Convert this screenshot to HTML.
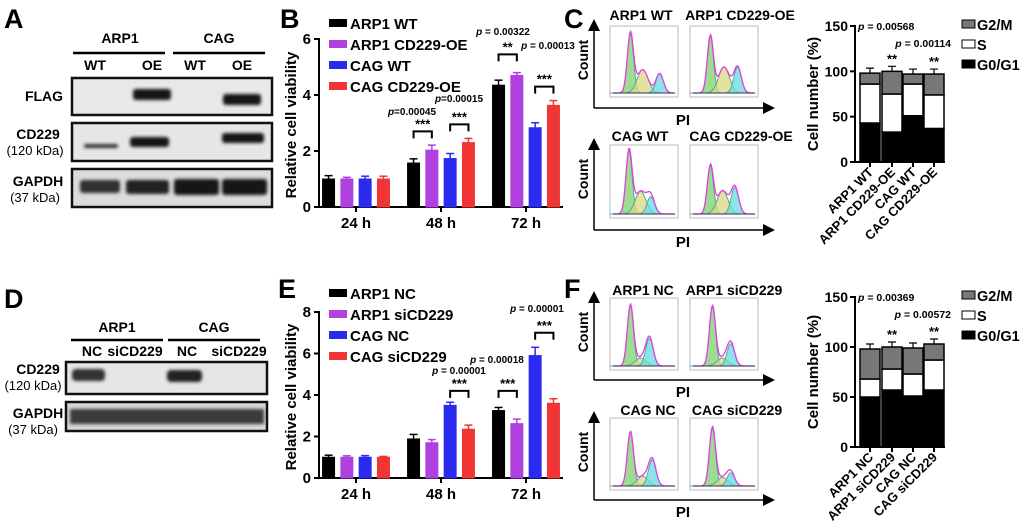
<!DOCTYPE html>
<html><head><meta charset="utf-8"><style>
body{margin:0;background:#fff}
svg{display:block;font-family:"Liberation Sans",Arial,sans-serif}
.b{font-weight:bold}
</style></head><body>
<svg id="s" width="1020" height="529" viewBox="0 0 1020 529" xmlns="http://www.w3.org/2000/svg">
<defs>
<filter id="blur" x="-20%" y="-50%" width="140%" height="200%"><feGaussianBlur stdDeviation="1.6"/></filter>
<marker id="arr" markerWidth="8" markerHeight="8" refX="6" refY="4" orient="auto"><path d="M0,0 L8,4 L0,8 z" fill="#000"/></marker>
</defs>
<text x="4" y="28" font-size="27" class="b">A</text>
<text x="280" y="28" font-size="27" class="b">B</text>
<text x="564" y="28" font-size="27" class="b">C</text>
<text x="4" y="308" font-size="27" class="b">D</text>
<text x="278" y="298" font-size="27" class="b">E</text>
<text x="564" y="298" font-size="27" class="b">F</text>

<g font-size="14">
<text x="120" y="43" text-anchor="middle" class="b">ARP1</text>
<text x="219" y="43" text-anchor="middle" class="b">CAG</text>
<line x1="73" y1="53" x2="165" y2="53" stroke="#000" stroke-width="2.5"/>
<line x1="173" y1="53" x2="265" y2="53" stroke="#000" stroke-width="2.5"/>
<text x="95" y="70" text-anchor="middle" class="b">WT</text>
<text x="152" y="70" text-anchor="middle" class="b">OE</text>
<text x="195" y="70" text-anchor="middle" class="b">WT</text>
<text x="242" y="70" text-anchor="middle" class="b">OE</text>
<text x="44" y="101" text-anchor="middle" class="b">FLAG</text>
<text x="38" y="139" text-anchor="middle" class="b">CD229</text>
<text x="35" y="155" text-anchor="middle" font-size="13">(120 kDa)</text>
<text x="38" y="186" text-anchor="middle" class="b">GAPDH</text>
<text x="35" y="202" text-anchor="middle" font-size="13">(37 kDa)</text>
<rect x="72" y="78" width="200" height="37" fill="#e8e8e8" stroke="#111" stroke-width="2.5"/>
<rect x="72" y="123" width="200" height="38" fill="#e6e6e6" stroke="#111" stroke-width="2.5"/>
<rect x="72" y="169" width="200" height="38" fill="#dcdcdc" stroke="#111" stroke-width="2.5"/>
<g filter="url(#blur)" fill="#151515">
<rect x="133" y="89" width="38" height="11" rx="3"/>
<rect x="223" y="94" width="38" height="11" rx="3"/>
<rect x="84" y="144" width="34" height="4" rx="2" fill="#333"/>
<rect x="130" y="137" width="39" height="10" rx="3"/>
<rect x="222" y="133" width="42" height="10" rx="3"/>
<rect x="80" y="180" width="40" height="13" rx="3" fill="#333"/>
<rect x="126" y="180" width="43" height="14" rx="3" fill="#222"/>
<rect x="174" y="179" width="45" height="16" rx="3"/>
<rect x="222" y="179" width="45" height="16" rx="3"/>
</g>
</g>

<g font-size="14">
<text x="117" y="332" text-anchor="middle" class="b">ARP1</text>
<text x="214" y="332" text-anchor="middle" class="b">CAG</text>
<line x1="71" y1="340" x2="163" y2="340" stroke="#000" stroke-width="2.5"/>
<line x1="168" y1="340" x2="260" y2="340" stroke="#000" stroke-width="2.5"/>
<text x="92" y="356" text-anchor="middle" class="b">NC</text>
<text x="135" y="356" text-anchor="middle" class="b">siCD229</text>
<text x="187" y="356" text-anchor="middle" class="b">NC</text>
<text x="239" y="356" text-anchor="middle" class="b">siCD229</text>
<text x="38" y="374" text-anchor="middle" class="b">CD229</text>
<text x="33" y="390" text-anchor="middle" font-size="13">(120 kDa)</text>
<text x="38" y="418" text-anchor="middle" class="b">GAPDH</text>
<text x="33" y="434" text-anchor="middle" font-size="13">(37 kDa)</text>
<rect x="66" y="362" width="201" height="32" fill="#e6e6e6" stroke="#111" stroke-width="2.5"/>
<rect x="66" y="402" width="201" height="29" fill="#d8d8d8" stroke="#111" stroke-width="2.5"/>
<g filter="url(#blur)">
<rect x="72" y="369" width="33" height="12" rx="4" fill="#333"/>
<rect x="167" y="370" width="35" height="12" rx="4" fill="#222"/>
<rect x="70" y="409" width="194" height="15" fill="#3a3a3a"/>
</g>
</g>

<g id="chartB"></g>
<g id="chartE"></g>
<g id="histC"></g>
<g id="histF"></g>
<g id="stackC"></g>
<g id="stackF"></g>
</svg>
<script>
const timeCats = ["24 h","48 h","72 h"];
const seriesColors = ["#000000","#b040e0","#2b2bf0","#f03535"];
const seriesB = ["ARP1 WT","ARP1 CD229-OE","CAG WT","CAG CD229-OE"];
const valsB = [[1,1.57,4.35],[1,2.03,4.7],[1,1.73,2.83],[1,2.3,3.63]];
const errB = [[0.12,0.15,0.18],[0.06,0.18,0.1],[0.1,0.18,0.18],[0.1,0.15,0.17]];
const ticksB = [0,2,4,6];
const seriesE = ["ARP1 NC","ARP1 siCD229","CAG NC","CAG siCD229"];
const valsE = [[1,1.88,3.25],[1,1.7,2.62],[1,3.5,5.9],[1,2.35,3.6]];
const errE = [[0.1,0.22,0.15],[0.07,0.15,0.22],[0.08,0.15,0.4],[0.04,0.2,0.22]];
const ticksE = [0,2,4,6,8];
const cycCatsC = ["ARP1 WT","ARP1 CD229-OE","CAG WT","CAG CD229-OE"];
const g1C = [43,33,51,37], sC = [43,42,35,37], g2C = [12,25,11,23];
const cycCatsF = ["ARP1 NC","ARP1 siCD229","CAG NC","CAG siCD229"];
const g1F = [50,57,51,57], sF = [18,21,22,30], g2F = [30,22,26,16];
const ticksCyc = [0,50,100,150];

const NS="http://www.w3.org/2000/svg";
function mk(p,tag,attrs,txt){const e=document.createElementNS(NS,tag);for(const k in attrs)e.setAttribute(k,attrs[k]);if(txt!==undefined)e.textContent=txt;p.appendChild(e);return e;}

function barChart(gid,oy,y0,yTop,ymax,ticks,series,vals,errs,annots){
  const g=document.getElementById(gid);
  const x0=319,x1=563;
  const ys=v=>y0-(v/ymax)*(y0-yTop);
  const centers=[356,441,526];
  const xs=(ci,si)=>centers[ci]+(si-1.5)*18.3;
  mk(g,'line',{x1:x0,y1:yTop-1,x2:x0,y2:y0,stroke:'#000','stroke-width':2});
  mk(g,'line',{x1:x0,y1:y0,x2:x1,y2:y0,stroke:'#000','stroke-width':2});
  ticks.forEach(t=>{mk(g,'line',{x1:x0-5,y1:ys(t),x2:x0,y2:ys(t),stroke:'#000','stroke-width':2});
    const l=mk(g,'text',{x:x0-8,y:ys(t)+5,'text-anchor':'end','font-size':15,'font-weight':'bold'},t);
    
    });
  const yl=mk(g,'text',{x:0,y:0,transform:`translate(296,${(y0+yTop)/2+2}) rotate(-90)`,'text-anchor':'middle','font-size':15,'font-weight':'bold'},'Relative cell viability');
  
  
  timeCats.forEach((c,ci)=>{mk(g,'line',{x1:centers[ci],y1:y0,x2:centers[ci],y2:y0+5,stroke:'#000','stroke-width':2});
    const l=mk(g,'text',{x:centers[ci],y:y0+21,'text-anchor':'middle','font-size':15,'font-weight':'bold'},c);
    
    });
  series.forEach((s,si)=>{
    vals[si].forEach((v,ci)=>{
      const cx=xs(ci,si),col=seriesColors[si];
      const top=ys(v),et=ys(v+errs[si][ci]);
      mk(g,'line',{x1:cx,y1:top,x2:cx,y2:et,stroke:col,'stroke-width':1.5});
      mk(g,'line',{x1:cx-4,y1:et,x2:cx+4,y2:et,stroke:col,'stroke-width':1.5});
      const r=mk(g,'rect',{x:cx-6,y:top,width:12,height:y0-top,fill:col,stroke:col,'stroke-width':1});
      
      
    });
    const ly=oy+24+si*21;
    const lr=mk(g,'rect',{x:329,y:ly-5,width:18,height:8,fill:seriesColors[si]});
    
    
    const lt=mk(g,'text',{x:350,y:ly+5,'font-size':15,'font-weight':'bold'},s);
    
    
  });
  annots.forEach(a=>{
    const xa=xs(a.ci,a.s1),xb=xs(a.ci,a.s2),yb=ys(a.y);
    mk(g,'path',{d:`M${xa},${yb+7} V${yb} H${xb} V${yb+7}`,fill:'none',stroke:'#000','stroke-width':2});
    mk(g,'text',{x:(xa+xb)/2,y:yb-3,'text-anchor':'middle','font-size':13,'font-weight':'bold'},a.star);
    const p=mk(g,'text',{x:a.px,y:a.py,'text-anchor':'middle','font-size':10,'font-weight':'bold'});
    mk(p,'tspan',{'font-style':'italic'},'p');mk(p,'tspan',{},a.p);
  });
}
barChart('chartB',0,207,39,6,ticksB,seriesB,valsB,errB,[
 {ci:1,s1:0,s2:1,y:2.7,star:'***',px:412,py:115,p:'=0.00045'},
 {ci:1,s1:2,s2:3,y:2.95,star:'***',px:459,py:102,p:'=0.00015'},
 {ci:2,s1:0,s2:1,y:5.45,star:'**',px:503,py:35,p:' = 0.00322'},
 {ci:2,s1:2,s2:3,y:4.3,star:'***',px:548,py:49,p:' = 0.00013'}]);
barChart('chartE',270,478,312,8,ticksE,seriesE,valsE,errE,[
 {ci:1,s1:2,s2:3,y:4.2,star:'***',px:459,py:374,p:' = 0.00001'},
 {ci:2,s1:0,s2:1,y:4.2,star:'***',px:497,py:363,p:' = 0.00018'},
 {ci:2,s1:2,s2:3,y:7.0,star:'***',px:537,py:312,p:' = 0.00001'}]);

const histC=[["ARP1 WT",[0.3,0.92,0.48,0.36,0.73,0.3]],["ARP1 CD229-OE",[0.3,0.88,0.5,0.4,0.7,0.4]],["CAG WT",[0.28,0.95,0.45,0.34,0.6,0.26]],["CAG CD229-OE",[0.3,0.72,0.48,0.35,0.66,0.4]]];
const histF=[["ARP1 NC",[0.3,0.92,0.45,0.12,0.58,0.42]],["ARP1 siCD229",[0.33,0.9,0.48,0.12,0.6,0.34]],["CAG NC",[0.3,0.82,0.48,0.15,0.62,0.4]],["CAG siCD229",[0.33,0.88,0.48,0.13,0.6,0.2]]];
// row layout: [labelY, boxTop, boxH, axisY, label centers]
function hists(gid,rows,data){
  const g=document.getElementById(gid);
  rows.forEach(([ly,bt,bh,base,lc],r)=>{
    mk(g,'line',{x1:594,y1:base,x2:594,y2:bt-4,stroke:'#000','stroke-width':1.5,'marker-end':'url(#arr)'});
    mk(g,'line',{x1:594,y1:base,x2:772,y2:base,stroke:'#000','stroke-width':1.5,'marker-end':'url(#arr)'});
    mk(g,'text',{x:0,y:0,transform:`translate(588,${bt+34}) rotate(-90)`,'text-anchor':'middle','font-size':14,'font-weight':'bold'},'Count');
    mk(g,'text',{x:683,y:base+17,'text-anchor':'middle','font-size':15,'font-weight':'bold'},'PI');
    [0,1].forEach(c=>{
      const d=data[r*2+c],bx=[610,690][c],by=bt,bw=68;
      mk(g,'text',{x:lc[c],y:ly+5,'text-anchor':'middle','font-size':14,'font-weight':'bold'},d[0]);
      mk(g,'rect',{x:bx,y:by,width:bw,height:bh,fill:'#fff',stroke:'#aaa','stroke-width':0.8});
      const p=d[1],yb=by+bh-4,H=bh-6;
      const gs=[[p[0],p[1],0.045,'#7ed06c'],[p[2],p[3],0.08,'#d9d880'],[p[4],p[5],0.055,'#67dbe0']];
      let tot=[];
      gs.forEach(([m,h,s,col])=>{let pts=[];for(let i=0;i<=60;i++){const f=0.05+i*0.9/60;const v=h*Math.exp(-((f-m)**2)/(2*s*s));pts.push([bx+f*bw,yb-v*H]);tot[i]=(tot[i]||0)+v;}
        mk(g,'path',{d:'M'+bx+','+yb+' L'+pts.map(q=>q.join(',')).join(' L')+' L'+(bx+0.95*bw)+','+yb+'Z',fill:col,'fill-opacity':0.75,stroke:'#5a9'});});
      let tp=[];for(let i=0;i<=60;i++){const f=0.05+i*0.9/60;tp.push((bx+f*bw)+','+(yb-Math.min(tot[i],1.05)*H));}
      mk(g,'polyline',{points:tp.join(' '),fill:'none',stroke:'#e040e0','stroke-width':1.3});
      mk(g,'line',{x1:bx+3,y1:yb,x2:bx+bw-3,y2:yb,stroke:'#335','stroke-width':1});
    });
  });
}
hists('histC',[[15,26,71,108,[641,740]],[136,145,73,230,[640,741]]],histC);
hists('histF',[[290,298,72,380,[643,734]],[410,418,72,500,[648,737]]],histF);

function stack(gid,y0,yTop,cats,g1,s,g2,pa,pb){
  const g=document.getElementById(gid);
  const x0=855,x1=945,ys=v=>y0-v/150*(y0-yTop);
  const cx=[870,892,913,934];
  mk(g,'line',{x1:x0,y1:yTop-1,x2:x0,y2:y0,stroke:'#000','stroke-width':2});
  mk(g,'line',{x1:x0,y1:y0,x2:x1,y2:y0,stroke:'#000','stroke-width':2});
  ticksCyc.forEach(t=>{mk(g,'line',{x1:x0-5,y1:ys(t),x2:x0,y2:ys(t),stroke:'#000','stroke-width':2});
    mk(g,'text',{x:x0-7,y:ys(t)+5,'text-anchor':'end','font-size':14,'font-weight':'bold'},t);});
  mk(g,'text',{x:0,y:0,transform:`translate(818,${(y0+yTop)/2}) rotate(-90)`,'text-anchor':'middle','font-size':15,'font-weight':'bold'},'Cell number (%)');
  cats.forEach((c,i)=>{
    const parts=[[0,g1[i],'#000'],[g1[i],s[i],'#fff'],[g1[i]+s[i],g2[i],'#777']];
    parts.forEach(([b,h,col],k)=>{
      const r=mk(g,'rect',{x:cx[i]-10,y:ys(b+h),width:20,height:ys(b)-ys(b+h),fill:col,stroke:'#000','stroke-width':1.5});
      
      
      const e=ys(b+h)-5;
      mk(g,'path',{d:`M${cx[i]},${ys(b+h)} V${e} M${cx[i]-4},${e} H${cx[i]+4}`,stroke:col=='#000'?'#fff':'#000','stroke-width':1.2,fill:'none'});
    });
    mk(g,'line',{x1:cx[i],y1:y0,x2:cx[i],y2:y0+5,stroke:'#000','stroke-width':2});
    const l=mk(g,'text',{x:0,y:0,transform:`translate(${cx[i]+4},${y0+11}) rotate(-45)`,'text-anchor':'end','font-size':13,'font-weight':'bold'},c);
    
    
    if(i%2==1)mk(g,'text',{x:cx[i],y:ys(g1[i]+s[i]+g2[i])-8,'text-anchor':'middle','font-size':13,'font-weight':'bold'},'**');
  });
  const oy=yTop-2;
  [['G2/M','#777'],['S','#fff'],['G0/G1','#000']].forEach(([n,col],k)=>{
    const ly=oy+k*20;
    mk(g,'rect',{x:962,y:ly-4,width:13,height:8,fill:col,stroke:'#000','stroke-width':1});
    const t=mk(g,'text',{x:977,y:ly+6,'font-size':14.5,'font-weight':'bold'},n);
    
    
  });
  [[pa,858,yTop+4,'start'],[pb,951,yTop+21,'end']].forEach(([v,x,y,a])=>{
    const p=mk(g,'text',{x:x,y:y,'text-anchor':a,'font-size':10.5,'font-weight':'bold'});
    mk(p,'tspan',{'font-style':'italic'},'p');mk(p,'tspan',{},' = '+v);});
}
stack('stackC',162,26,cycCatsC,g1C,sC,g2C,'0.00568','0.00114');
stack('stackF',447,297,cycCatsF,g1F,sF,g2F,'0.00369','0.00572');
</script>
</body></html>
